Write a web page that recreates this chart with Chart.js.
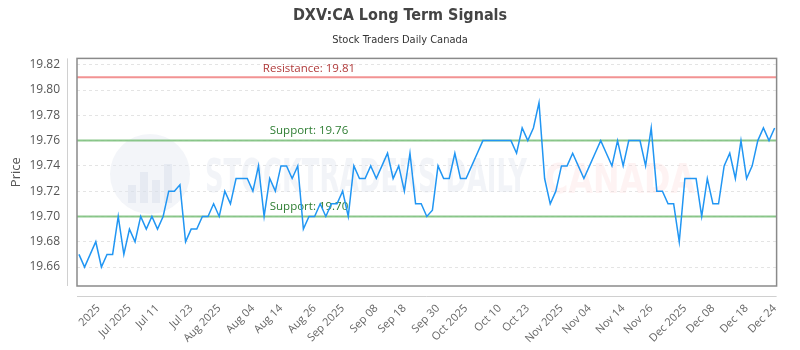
<!DOCTYPE html>
<html>
<head>
<meta charset="utf-8">
<script src="https://cdn.jsdelivr.net/npm/chart.js@4.4.1/dist/chart.umd.min.js"></script>
<style>
  html, body { margin: 0; padding: 0; background: #fff; }
  #wrap { width: 800px; height: 350px; }
</style>
</head>
<body>
<div id="wrap"><canvas id="priceChart"></canvas></div>
<script>
// Daily closes (oldest first)
const prices = [
  19.67, 19.66, 19.67, 19.68, 19.66, 19.67, 19.67, 19.70, 19.67, 19.69,
  19.68, 19.70, 19.69, 19.70, 19.69, 19.70, 19.72, 19.72, 19.725, 19.68,
  19.69, 19.69, 19.70, 19.70, 19.71, 19.70, 19.72, 19.71, 19.73, 19.73,
  19.73, 19.72, 19.74, 19.70, 19.73, 19.72, 19.74, 19.74, 19.73, 19.74,
  19.69, 19.70, 19.70, 19.71, 19.70, 19.71, 19.71, 19.72, 19.70, 19.74,
  19.73, 19.73, 19.74, 19.73, 19.74, 19.75, 19.73, 19.74, 19.72, 19.75,
  19.71, 19.71, 19.70, 19.705, 19.74, 19.73, 19.73, 19.75, 19.73, 19.73,
  19.74, 19.75, 19.76, 19.76, 19.76, 19.76, 19.76, 19.76, 19.75, 19.77,
  19.76, 19.77, 19.79, 19.73, 19.71, 19.72, 19.74, 19.74, 19.75, 19.74,
  19.73, 19.74, 19.75, 19.76, 19.75, 19.74, 19.76, 19.74, 19.76, 19.76,
  19.76, 19.74, 19.77, 19.72, 19.72, 19.71, 19.71, 19.68, 19.73, 19.73,
  19.73, 19.70, 19.73, 19.71, 19.71, 19.74, 19.75, 19.73, 19.76, 19.73,
  19.74, 19.76, 19.77, 19.76, 19.77
];

// x-axis labels and the data index each one sits on
const xTickLabels = [
  '2025', 'Jul 2025', 'Jul 11', 'Jul 23', 'Aug 2025', 'Aug 04', 'Aug 14', 'Aug 26',
  'Sep 2025', 'Sep 08', 'Sep 18', 'Sep 30', 'Oct 2025', 'Oct 10', 'Oct 23',
  'Nov 2025', 'Nov 04', 'Nov 14', 'Nov 26', 'Dec 2025', 'Dec 08', 'Dec 18', 'Dec 24'
];
const xTickIndex = [3.5, 9, 14, 20, 25, 31, 36, 42, 47, 53, 58, 64, 69, 75, 80, 86, 91, 97, 102, 108, 113, 119, 124];

const yTicks = [19.66, 19.68, 19.70, 19.72, 19.74, 19.76, 19.78, 19.80, 19.82];

const resistance = 19.81;
const supports = [19.76, 19.70];

Chart.defaults.font.family = '"Open Sans", sans-serif';
Chart.defaults.color = '#666';

// faint site logo behind the plot
const watermark = {
  id: 'watermark',
  beforeDatasetsDraw(chart) {
    const ctx = chart.ctx;
    ctx.save();
    ctx.fillStyle = 'rgba(228,233,241,0.45)';
    ctx.beginPath();
    ctx.arc(150, 174, 40, 0, Math.PI * 2);
    ctx.fill();
    ctx.fillStyle = 'rgba(205,214,228,0.35)';
    [[128, 185, 8, 18], [140, 172, 8, 31], [152, 180, 8, 23], [164, 164, 8, 39]].forEach(b => ctx.fillRect(b[0], b[1], b[2], b[3]));
    ctx.font = 'bold 46px "DejaVu Sans Condensed", sans-serif';
    ctx.textBaseline = 'alphabetic';
    ctx.fillStyle = 'rgba(218,224,236,0.35)';
    ctx.fillText('STOCKTRADERS DAILY', 205, 192, 322);
    ctx.fillStyle = 'rgba(252,220,220,0.35)';
    ctx.font = 'bold 40px "DejaVu Sans Condensed", sans-serif';
    ctx.fillText('CANADA', 545, 193, 150);
    ctx.restore();
  }
};

// resistance / support lines with their labels
const levels = {
  id: 'levels',
  beforeDatasetsDraw(chart) {
    const { ctx, chartArea: a, scales } = chart;
    const y = scales.y;
    const labelX = scales.x.getPixelForValue(41);
    ctx.save();
    ctx.font = '11.5px "Open Sans", sans-serif';
    ctx.textAlign = 'center';
    ctx.textBaseline = 'bottom';

    const rY = y.getPixelForValue(resistance);
    ctx.strokeStyle = 'rgba(240,128,128,0.85)';
    ctx.lineWidth = 2;
    ctx.beginPath();
    ctx.moveTo(a.left, rY);
    ctx.lineTo(a.right, rY);
    ctx.stroke();
    ctx.fillStyle = '#b03a3a';
    ctx.fillText('Resistance: ' + resistance.toFixed(2), labelX, rY - 3);

    supports.forEach(s => {
      const sY = y.getPixelForValue(s);
      ctx.strokeStyle = 'rgba(120,190,120,0.85)';
      ctx.beginPath();
      ctx.moveTo(a.left, sY);
      ctx.lineTo(a.right, sY);
      ctx.stroke();
      ctx.fillStyle = '#2e7d32';
      ctx.fillText('Support: ' + s.toFixed(2), labelX, sY - 4);
    });
    ctx.restore();
  }
};

// plot frame plus the detached axis lines
const frame = {
  id: 'frame',
  afterDraw(chart) {
    const { ctx, chartArea: a } = chart;
    ctx.save();
    ctx.strokeStyle = '#8a8a8a';
    ctx.lineWidth = 1.5;
    ctx.strokeRect(a.left, a.top, a.right - a.left, a.bottom - a.top);
    ctx.strokeStyle = '#d0d0d0';
    ctx.lineWidth = 1;
    ctx.beginPath();
    ctx.moveTo(a.left - 10 + 0.5, a.top);
    ctx.lineTo(a.left - 10 + 0.5, a.bottom);
    ctx.moveTo(a.left, a.bottom + 10.5);
    ctx.lineTo(a.right, a.bottom + 10.5);
    ctx.stroke();
    ctx.restore();
  }
};

new Chart(document.getElementById('priceChart'), {
  type: 'line',
  data: {
    datasets: [{
      label: 'Price',
      data: prices.map((p, i) => ({ x: i, y: p })),
      borderColor: '#2196f3',
      borderWidth: 1.5,
      pointRadius: 0,
      tension: 0,
      fill: false
    }]
  },
  options: {
    responsive: true,
    maintainAspectRatio: false,
    animation: false,
    layout: { padding: { left: 10, right: 10, top: 0, bottom: 0 } },
    plugins: {
      legend: { display: false },
      tooltip: { enabled: false },
      title: {
        display: true,
        text: 'DXV:CA Long Term Signals',
        color: '#444',
        font: { size: 16, weight: 'bold', family: '"DejaVu Sans Condensed", sans-serif' },
        padding: { top: 6, bottom: 6 }
      },
      subtitle: {
        display: true,
        text: 'Stock Traders Daily Canada',
        color: '#333',
        font: { size: 11, family: '"DejaVu Sans Condensed", sans-serif' },
        padding: { top: 2, bottom: 12 }
      }
    },
    scales: {
      x: {
        type: 'linear',
        min: -0.35,
        max: 124.35,
        grid: { display: false, drawTicks: false },
        border: { display: false },
        afterBuildTicks: axis => { axis.ticks = xTickIndex.map(v => ({ value: v })); },
        afterFit: axis => { axis.height = 64; },
        ticks: {
          autoSkip: false,
          minRotation: 45,
          maxRotation: 45,
          padding: 16,
          font: { size: 11 },
          color: '#666',
          callback: (v, i) => xTickLabels[i]
        }
      },
      y: {
        min: 19.645,
        max: 19.825,
        afterBuildTicks: axis => { axis.ticks = yTicks.map(v => ({ value: v })); },
        afterFit: axis => { axis.width = 67; },
        grid: { color: '#e4e4e4', drawTicks: false },
        border: { display: false, dash: [3, 3] },
        ticks: {
          padding: 17,
          font: { size: 12 },
          color: '#555',
          callback: v => v.toFixed(2)
        },
        title: {
          display: true,
          text: 'Price',
          color: '#555',
          font: { size: 13 },
          padding: { top: -2, bottom: 0 }
        }
      }
    }
  },
  plugins: [watermark, levels, frame]
});
</script>
</body>
</html>
